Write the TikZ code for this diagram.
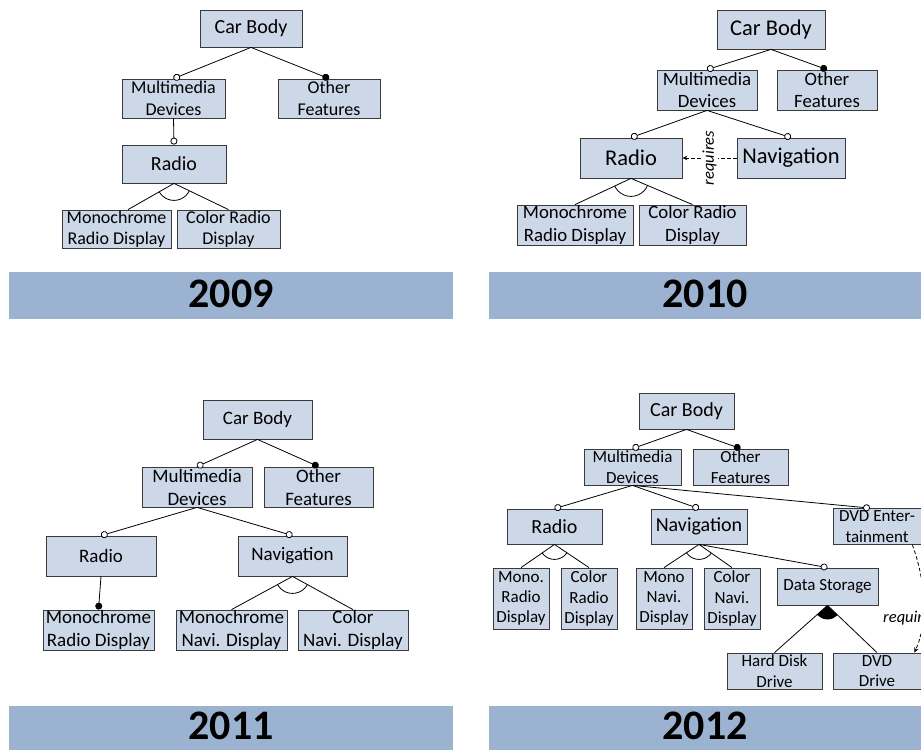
\documentclass[tikz,border=0pt]{standalone}
\usepackage{fontspec}
\setmainfont{Carlito}
\usetikzlibrary{arrows.meta,calc}
\definecolor{boxfill}{HTML}{CCD8E7}
\definecolor{barfill}{HTML}{9BB3D1}
\definecolor{boxline}{HTML}{3A3A3A}
\begin{document}
\begin{tikzpicture}[x=1pt,y=-1pt,
  feat/.style={draw=boxline, line width=0.8pt, fill=boxfill, inner sep=0pt, align=center},
  fs/.style 2 args={font=\fontsize{#1}{#2}\selectfont},
  wh/.style 2 args={minimum width=#1pt, minimum height=#2pt},
  con/.style={line width=0.8pt},
  opt/.style={con,-{Circle[length=7pt,fill=white,line width=0.8pt]}},
  mand/.style={con,-{Circle[length=7pt]}},
  req/.style={con, dash pattern=on 3.5pt off 2.5pt, -{Stealth[length=5pt,width=4.5pt]}},
  reqlab/.style={font=\fontsize{16.5}{20}\selectfont\itshape, fill=white, inner sep=1pt},
  bar/.style={fill=barfill, inner sep=0pt},
  year/.style={inner sep=0pt, anchor=base, font=\fontsize{42}{50}\selectfont\bfseries}
]
\useasboundingbox (0,0) rectangle (921,750);

% ---------------- year bars ----------------
\node[bar, wh={444}{47}] (b09) at (231,295.5) {};
\node[bar, wh={432}{47}] (b10) at (705,295.5) {};
\node[bar, wh={444}{44}] (b11) at (231,728) {};
\node[bar, wh={432}{44}] (b12) at (705,728) {};
\node[year] (y09) at (231,307) {2009};
\node[year] (y10) at (705,307) {2010};
\node[year] (y11) at (231,739.5) {2011};
\node[year] (y12) at (705,739.5) {2012};

% ---------------- 2009 ----------------
\node[feat, fs={20}{24}, wh={102}{37}] (cb9) at (251,28.5) {Car Body};
\node[feat, fs={18}{21.6}, wh={103}{39}] (md9) at (173.5,98.5) {Multimedia\\Devices};
\node[feat, fs={18}{21.6}, wh={102}{39}] (of9) at (329,98.5) {Other\\Features};
\node[feat, fs={20}{24}, wh={104}{38}] (ra9) at (174,164) {Radio};
\node[feat, fs={18}{21.6}, wh={109}{38}] (mo9) at (116.5,229) {Monochrome\\Radio Display};
\node[feat, fs={18}{21.6}, wh={103}{38}] (co9) at (228.5,229) {Color Radio\\Display};
\draw[opt] (cb9.south) -- (md9.north);
\draw[mand] (cb9.south) -- (of9.north);
\draw[opt] (md9.south) -- (ra9.north);
\draw[con] (ra9.south) -- ([xshift=11.5pt]mo9.north);
\draw[con] (ra9.south) -- (co9.north);
\begin{scope}
  \clip (ra9.south) -- ([xshift=11.5pt]mo9.north) -- (co9.north) -- cycle;
  \draw[con] (ra9.south) circle[radius=17pt];
\end{scope}

% ---------------- 2010 ----------------
\node[feat, fs={22.5}{27}, wh={108}{39}] (cb10) at (771,29.5) {Car Body};
\node[feat, fs={18.8}{22.5}, wh={100}{40}] (md10) at (707,90) {Multimedia\\Devices};
\node[feat, fs={18.8}{22.5}, wh={100}{40}] (of10) at (827,90) {Other\\Features};
\node[feat, fs={22.5}{27}, wh={102}{40}] (ra10) at (631,158) {Radio};
\node[feat, fs={22.5}{27}, wh={108}{40}] (na10) at (791,158) {Navigation};
\node[feat, fs={18.8}{22.5}, wh={116}{40}] (mo10) at (575,225) {Monochrome\\Radio Display};
\node[feat, fs={18.8}{22.5}, wh={107}{40}] (co10) at (692.5,225) {Color Radio\\Display};
\draw[opt] (cb10.south) -- (md10.north);
\draw[mand] (cb10.south) -- (of10.north);
\draw[opt] (md10.south) -- (ra10.north);
\draw[opt] (md10.south) -- (na10.north);
\draw[con] (ra10.south) -- (mo10.north);
\draw[con] (ra10.south) -- (co10.north);
\begin{scope}
  \clip (ra10.south) -- (mo10.north) -- (co10.north) -- cycle;
  \draw[con] (ra10.south) circle[radius=18pt];
\end{scope}
\draw[req] (na10.west) -- node[reqlab, rotate=90] (rq10) {requires} (ra10.east);

% ---------------- 2011 ----------------
\node[feat, fs={19}{23}, wh={109}{39}] (cb11) at (257.5,419.5) {Car Body};
\node[feat, fs={19}{23}, wh={110}{40}] (md11) at (197,487) {Multimedia\\Devices};
\node[feat, fs={19}{23}, wh={109}{40}] (of11) at (318.5,487) {Other\\Features};
\node[feat, fs={19}{23}, wh={110}{40}] (ra11) at (101,556) {Radio};
\node[feat, fs={19}{23}, wh={109}{40}] (na11) at (292.5,556) {Navigation};
\node[feat, fs={19}{23}, wh={111}{40}] (mr11) at (98.5,630) {Monochrome\\Radio Display};
\node[feat, fs={19}{23}, wh={111}{40}] (mn11) at (231.5,630) {Monochrome\\Navi. Display};
\node[feat, fs={19}{23}, wh={110}{40}] (cn11) at (353,630) {Color\\Navi. Display};
\draw[opt] (cb11.south) -- (md11.north);
\draw[mand] (cb11.south) -- (of11.north);
\draw[opt] (md11.south) -- (ra11.north);
\draw[opt] (md11.south) -- (na11.north);
\draw[mand] (ra11.south) -- (mr11.north);
\draw[con] (na11.south) -- (mn11.north);
\draw[con] (na11.south) -- (cn11.north);
\begin{scope}
  \clip (na11.south) -- (mn11.north) -- (cn11.north) -- cycle;
  \draw[con] (na11.south) circle[radius=17pt];
\end{scope}

% ---------------- 2012 ----------------
\node[feat, fs={20}{24}, wh={95}{36}] (cb12) at (686.5,411) {Car Body};
\node[feat, fs={17}{20.4}, wh={97}{36}] (md12) at (632.5,467) {Multimedia\\Devices};
\node[feat, fs={17}{20.4}, wh={95}{36}] (of12) at (740.5,467) {Other\\Features};
\node[feat, fs={20}{24}, wh={95}{35}] (ra12) at (554.5,526.5) {Radio};
\node[feat, fs={20}{24}, wh={96}{35}] (na12) at (699,526.5) {Navigation};
\node[feat, fs={17}{20.4}, wh={88}{36}] (de12) at (877,526.5) {DVD Enter-\\tainment};
\node[feat, fs={17}{20.4}, wh={56}{61}] (mr12) at (521,598.5) {Mono.\\Radio\\Display};
\node[feat, fs={17}{20.4}, wh={56}{61}] (cr12) at (589,598.5) {Color\\Radio\\Display};
\node[feat, fs={17}{20.4}, wh={56}{61}] (mn12) at (664,598.5) {Mono\\Navi.\\Display};
\node[feat, fs={17}{20.4}, wh={56}{61}] (cn12) at (732,598.5) {Color\\Navi.\\Display};
\node[feat, fs={17}{20.4}, wh={101}{37}] (ds12) at (827.5,586.5) {Data Storage};
\node[feat, fs={17}{20.4}, wh={95}{36}] (hd12) at (774.5,671) {Hard Disk\\Drive};
\node[feat, fs={17}{20.4}, wh={88}{36}] (dv12) at (877,671) {DVD\\Drive};
\draw[opt] (cb12.south) -- (md12.north);
\draw[mand] (cb12.south) -- (of12.north);
\draw[opt] (md12.south) -- (ra12.north);
\draw[opt] (md12.south) -- (na12.north);
\draw[opt] (md12.south) -- ([xshift=-7pt]de12.north);
\draw[con] (ra12.south) -- (mr12.north);
\draw[con] (ra12.south) -- (cr12.north);
\begin{scope}
  \clip (ra12.south) -- (mr12.north) -- (cr12.north) -- cycle;
  \draw[con] (ra12.south) circle[radius=15pt];
\end{scope}
\draw[con] (na12.south) -- (mn12.north);
\draw[con] (na12.south) -- (cn12.north);
\begin{scope}
  \clip (na12.south) -- (mn12.north) -- (cn12.north) -- cycle;
  \draw[con] (na12.south) circle[radius=15pt];
\end{scope}
\draw[opt] (na12.south) -- (ds12.north);
\begin{scope}
  \clip (ds12.south) -- (hd12.north) -- (dv12.north) -- cycle;
  \fill (ds12.south) circle[radius=14pt];
\end{scope}
\draw[con] (ds12.south) -- (hd12.north);
\draw[con] (ds12.south) -- (dv12.north);
\draw[req] ([xshift=-9pt]de12.south east) .. controls (927,585) and (927,625) .. ([xshift=-7pt]dv12.north east);
\node[reqlab, anchor=west] (rq12) at (882,618) {requires};
\end{tikzpicture}
\end{document}
